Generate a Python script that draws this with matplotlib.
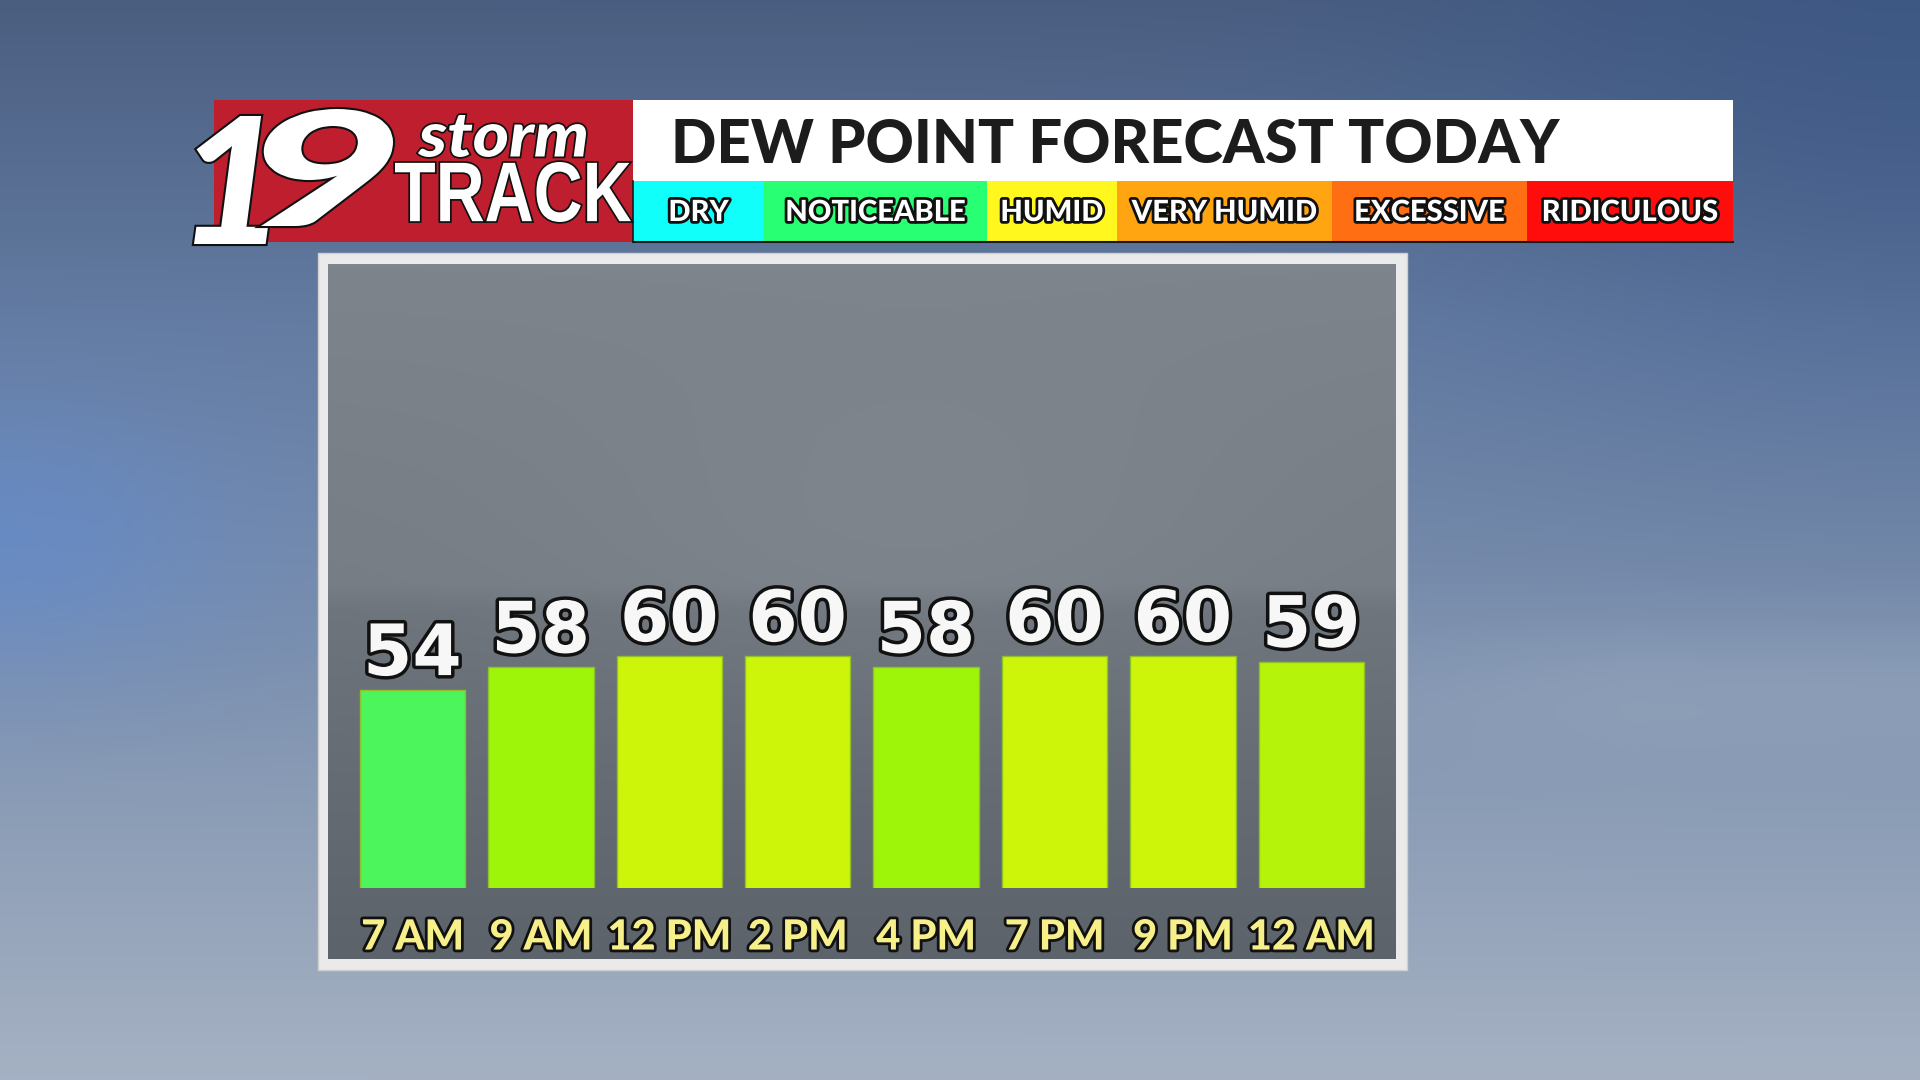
import numpy as np
import matplotlib
matplotlib.use("Agg")
import matplotlib.pyplot as plt
import matplotlib.patheffects as pe
from matplotlib.patches import Rectangle, PathPatch
from matplotlib.textpath import TextPath
from matplotlib.font_manager import FontProperties
from matplotlib.transforms import Affine2D

# ---------------- data ----------------
times = ["7 AM", "9 AM", "12 PM", "2 PM", "4 PM", "7 PM", "9 PM", "12 AM"]
dew_points = [54, 58, 60, 60, 58, 60, 60, 59]
title_text = "DEW POINT FORECAST TODAY"
scale_labels = ["DRY", "NOTICEABLE", "HUMID", "VERY HUMID", "EXCESSIVE", "RIDICULOUS"]
scale_colors = ["#10FFFA", "#28FF72", "#FFF71E", "#FFA512", "#FF6E12", "#FF0D0D"]
bar_color_by_value = {54: "#4BF55B", 58: "#9EF50A", 59: "#B5F30B", 60: "#CDF50A"}

W, H = 1920, 1080
fig = plt.figure(figsize=(19.2, 10.8), dpi=100)


def rect(x0, y0, x1, y1):
    return [x0 / W, 1 - y1 / H, (x1 - x0) / W, (y1 - y0) / H]


def stroke(lw, fg="#111111"):
    return [pe.Stroke(linewidth=lw, foreground=fg), pe.Normal()]


def path_text(ax, s, x0, y0, x1, y1, fp, lw=2.5, z=5):
    """Draw text s fitted into pixel box (x0,y0)-(x1,y1), y pointing down."""
    tp = TextPath((0, 0), s, size=100, prop=fp)
    bb = tp.get_extents()
    sx = (x1 - x0) / bb.width
    sy = (y1 - y0) / bb.height
    tr = (Affine2D().translate(-bb.x0, -bb.y0).scale(sx, -sy)
          .translate(x0, y1) + ax.transData)
    patch = PathPatch(tp, transform=tr, facecolor="white", edgecolor="none",
                      zorder=z)
    patch.set_path_effects(stroke(lw))
    ax.add_patch(patch)


# ---------------- background ----------------
ax_bg = fig.add_axes([0, 0, 1, 1])
ax_bg.axis("off")

ny, nx = 216, 384
yy, xx = np.mgrid[0:1:ny * 1j, 0:1:nx * 1j]
sy = [0.0, 0.3, 0.6, 0.85, 1.0]
sc = np.array([[74, 94, 128], [100, 124, 162], [124, 144, 174],
               [150, 165, 187], [165, 177, 195]]) / 255
img = np.stack([np.interp(yy, sy, sc[:, c]) for c in range(3)], -1)
glow = np.exp(-(((xx - 0.0) / 0.12) ** 2 + ((yy - 0.5) / 0.13) ** 2))
img += glow[..., None] * (np.array([95, 140, 215]) / 255 - img) * 0.55
streak = np.exp(-(((yy - 0.64) / 0.07) ** 2)) * np.clip((xx - 0.6) / 0.25, 0, 1)
img += streak[..., None] * (np.array([170, 183, 200]) / 255 - img) * 0.3
tr_ = np.exp(-(((xx - 1) / 0.25) ** 2 + ((yy - 0) / 0.35) ** 2))
img += tr_[..., None] * (np.array([55, 85, 135]) / 255 - img) * 0.6
ax_bg.imshow(np.clip(img, 0, 1), extent=(0, W, H, 0), aspect="auto",
             interpolation="bilinear", zorder=0)

# panel frame
ax_bg.add_patch(Rectangle((318, 253), 1407 - 318, 970 - 253,
                          facecolor="#EAEAEA", edgecolor="#D0D0D0", lw=1, zorder=1))
# gray panel gradient
py, px = np.mgrid[0:1:200j, 0:1:300j]
psy = [0.0, 0.3, 0.46, 0.5, 0.7, 1.0]
psc = np.array([[126, 132, 139], [121, 127, 134], [119, 125, 132],
                [110, 116, 123], [103, 109, 116], [93, 99, 106]]) / 255
pim = np.stack([np.interp(py, psy, psc[:, c]) for c in range(3)], -1)
light = np.exp(-(((px - 0.55) / 0.35) ** 2 + ((py - 0.4) / 0.25) ** 2))
pim += light[..., None] * 0.025
ax_bg.imshow(np.clip(pim, 0, 1), extent=(328, 1396, 959, 264), aspect="auto",
             interpolation="bilinear", zorder=2)
ax_bg.set_xlim(0, W)
ax_bg.set_ylim(H, 0)

# ---------------- header ----------------
ax_bg.add_patch(Rectangle((214, 100), 633 - 214, 242 - 100,
                          facecolor="#BE1E2D", edgecolor="none", zorder=3))
ax_bg.add_patch(Rectangle((633, 100), 1733 - 633, 181 - 100,
                          facecolor="white", edgecolor="none", zorder=3))
bounds = [633, 764, 987, 1117, 1332, 1527, 1733]
for i, (lab, col) in enumerate(zip(scale_labels, scale_colors)):
    x0, x1 = bounds[i], bounds[i + 1]
    ax_bg.add_patch(Rectangle((x0, 181), x1 - x0, 242 - 181,
                              facecolor=col, edgecolor="none", zorder=3))
    ax_bg.text((x0 + x1) / 2, 213, lab, ha="center", va="center",
               fontsize=21, color="white", family=["Lato", "DejaVu Sans"],
               fontweight="black", zorder=4, path_effects=stroke(4))
ax_bg.plot([633, 1733], [242, 242], color="#1A1A1A", lw=1.5, zorder=4)
ax_bg.plot([633, 633], [181, 242], color="#1A1A1A", lw=1.2, zorder=4)

ax_bg.text(671, 145, title_text, ha="left", va="center", fontsize=43,
           color="#1C1C1C", family=["Lato", "DejaVu Sans"], fontweight="black",
           zorder=4)

# logo
fp_it = FontProperties(family="Lato", weight="black", style="italic")
fp_narrow = FontProperties(family="Liberation Sans", weight="bold")
path_text(ax_bg, "1", 194, 116, 268, 244, fp_it, lw=3)
path_text(ax_bg, "9", 261, 109, 393, 226, fp_it, lw=3)
path_text(ax_bg, "storm", 418, 115, 586, 157, fp_it, lw=2.5)
path_text(ax_bg, "TRACK", 395, 162, 631, 222, fp_narrow, lw=2.5)

# ---------------- bar chart ----------------
ax = fig.add_axes(rect(328, 263, 1396, 888))
ax.set_zorder(5)
ax.patch.set_alpha(0)
x = np.arange(len(times))
colors = [bar_color_by_value[v] for v in dew_points]
bars = ax.bar(x, dew_points, width=0.82, color=colors,
              edgecolor="#8FBF2A", linewidth=1)
ax.set_xlim(-0.658, 7.66)
ax.set_ylim(19.06, 129.4)
for s in ax.spines.values():
    s.set_visible(False)
ax.set_yticks([])
ax.set_xticks(x)
ax.set_xticklabels(times, fontsize=30, color="#F7F08A",
                   family=["Lato", "DejaVu Sans"], fontweight="black")
for t in ax.get_xticklabels():
    t.set_path_effects(stroke(4))
ax.tick_params(axis="x", length=0, pad=22)

labels = ax.bar_label(bars, labels=[str(v) for v in dew_points], padding=0,
                      fontsize=51, color="#F7F7F7",
                      family=["DejaVu Sans"], fontweight="bold")
for t in labels:
    t.set_path_effects(stroke(5))

fig.savefig("out.png", dpi=100)
